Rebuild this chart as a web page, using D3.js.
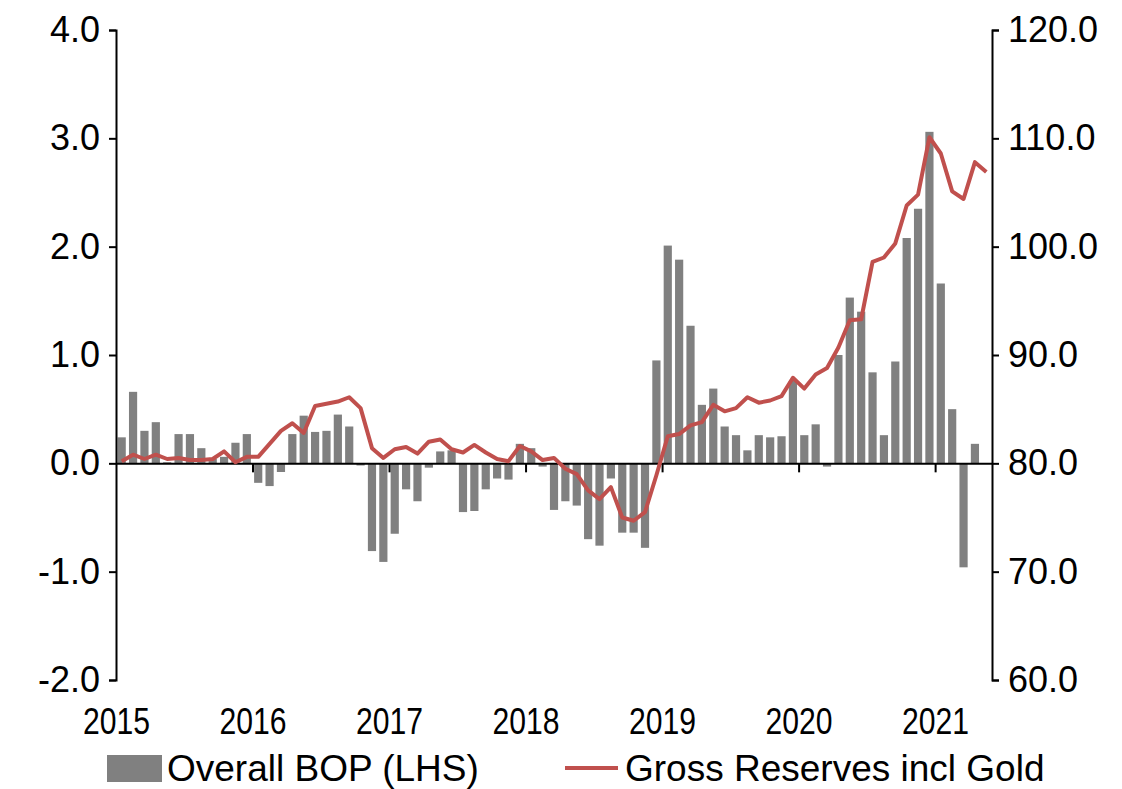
<!DOCTYPE html>
<html>
<head>
<meta charset="utf-8">
<script src="https://cdn.jsdelivr.net/npm/d3@7"></script>
<style>
  body { margin: 0; background: #fff; }
  svg { font-family: "Liberation Sans", Arial, sans-serif; }
  .axis path, .axis line { stroke: #000; stroke-width: 2px; }
  .axis text { fill: #000; }
</style>
</head>
<body>
<div id="chart"></div>
<script>
// monthly data, Jan 2015 - May 2021
var years = [2015, 2016, 2017, 2018, 2019, 2020, 2021];
var leftTicks = [-2, -1, 0, 1, 2, 3, 4];
var rightTicks = [60, 70, 80, 90, 100, 110, 120];

var bop = [
  0.24, 0.66, 0.30, 0.38, 0.01, 0.27, 0.27, 0.14, 0.04, 0.06, 0.19, 0.27,
  -0.18, -0.21, -0.08, 0.27, 0.44, 0.29, 0.30, 0.45, 0.34, -0.02, -0.81, -0.91,
  -0.65, -0.24, -0.35, -0.04, 0.11, 0.12, -0.45, -0.44, -0.24, -0.14, -0.15, 0.18,
  0.14, -0.03, -0.43, -0.35, -0.39, -0.70, -0.76, -0.14, -0.64, -0.64, -0.78, 0.95,
  2.01, 1.88, 1.27, 0.54, 0.69, 0.34, 0.26, 0.12, 0.26, 0.24, 0.25, 0.76,
  0.26, 0.36, -0.03, 1.00, 1.53, 1.40, 0.84, 0.26, 0.94, 2.08, 2.35, 3.06,
  1.66, 0.50, -0.96, 0.18, null
];

var reserves = [
  80.2, 80.8, 80.4, 80.8, 80.4, 80.5, 80.3, 80.3, 80.4, 81.1, 80.1, 80.6,
  80.6, 81.8, 83.0, 83.7, 82.8, 85.3, 85.5, 85.7, 86.1, 85.1, 81.4, 80.5,
  81.3, 81.5, 80.9, 82.0, 82.2, 81.3, 81.0, 81.7, 81.0, 80.4, 80.2, 81.6,
  81.1, 80.3, 80.5, 79.5, 79.0, 77.5, 76.7, 77.8, 75.0, 74.7, 75.5, 78.9,
  82.5, 82.7, 83.5, 83.8, 85.4, 84.8, 85.1, 86.1, 85.6, 85.8, 86.2, 87.9,
  86.9, 88.2, 88.8, 90.7, 93.2, 93.3, 98.6, 99.0, 100.3, 103.8, 104.8, 110.1,
  108.6, 105.1, 104.4, 107.8, 106.9
];

var months = bop.map(function(d, i) { return i; });

var svg = d3.select("#chart").append("svg").attr("width", 1122).attr("height", 789),
    margin = {top: 30, right: 130, bottom: 109, left: 116},
    width = 1122 - margin.left - margin.right,
    height = 789 - margin.top - margin.bottom;

var g = svg.append("g").attr("transform", "translate(" + margin.left + "," + margin.top + ")");

var x = d3.scaleBand().domain(months).range([0, width]).paddingInner(0.28).paddingOuter(0.14);
var xYear = d3.scaleLinear().domain([0, months.length]).range([0, width]);
var yL = d3.scaleLinear().domain([-2, 4]).range([height, 0]);
var yR = d3.scaleLinear().domain([60, 120]).range([height, 0]);

// bars
g.selectAll(".bar")
  .data(months.filter(function(i) { return bop[i] !== null; }))
  .enter().append("rect")
  .attr("class", "bar")
  .attr("fill", "#808080")
  .attr("x", function(i) { return x(i); })
  .attr("width", x.bandwidth())
  .attr("y", function(i) { return yL(Math.max(0, bop[i])); })
  .attr("height", function(i) { return Math.abs(yL(bop[i]) - yL(0)); });

// x axis at zero, ticks only
g.append("g")
  .attr("class", "axis")
  .attr("transform", "translate(0," + yL(0) + ")")
  .call(d3.axisBottom(xYear)
    .tickValues(years.slice(1).map(function(y) { return (y - 2015) * 12; }))
    .tickSize(9).tickSizeOuter(0).tickFormat(""));

// year labels at the bottom (condensed like the original)
g.append("g")
  .attr("class", "axis years")
  .attr("transform", "translate(0," + (height + 25) + ")")
  .call(d3.axisBottom(xYear)
    .tickValues(years.map(function(y) { return (y - 2015) * 12; }))
    .tickSize(0).tickFormat(function(d) { return 2015 + d / 12; }))
  .call(function(a) { a.select(".domain").remove(); })
  .selectAll("text")
  .attr("font-size", "37px")
  .attr("textLength", 67)
  .attr("lengthAdjust", "spacingAndGlyphs");

// left axis
g.append("g")
  .attr("class", "axis")
  .call(d3.axisLeft(yL).tickValues(leftTicks).tickSize(7).tickPadding(9)
    .tickFormat(function(d) { return d.toFixed(1); }))
  .selectAll("text").attr("font-size", "36px");

// right axis
g.append("g")
  .attr("class", "axis")
  .attr("transform", "translate(" + width + ",0)")
  .call(d3.axisRight(yR).tickValues(rightTicks).tickSize(7).tickPadding(9)
    .tickFormat(function(d) { return d.toFixed(1); }))
  .selectAll("text").attr("font-size", "36px");

// reserves line
var line = d3.line()
  .x(function(d, i) { return x(i) + x.bandwidth() / 2; })
  .y(function(d) { return yR(d); });

g.append("path")
  .datum(reserves)
  .attr("fill", "none")
  .attr("stroke", "#C0504D")
  .attr("stroke-width", 4)
  .attr("stroke-linejoin", "round")
  .attr("d", line);

// legend
var lg = svg.append("g").attr("transform", "translate(0,768)");
lg.append("rect").attr("x", 107).attr("y", -13).attr("width", 55).attr("height", 27).attr("fill", "#808080");
lg.append("text").attr("x", 167).attr("y", 13).attr("font-size", "37px").text("Overall BOP (LHS)");
lg.append("line").attr("x1", 565).attr("x2", 618).attr("y1", 0).attr("y2", 0)
  .attr("stroke", "#C0504D").attr("stroke-width", 4);
lg.append("text").attr("x", 625).attr("y", 13).attr("font-size", "37px").text("Gross Reserves incl Gold");
</script>
</body>
</html>
